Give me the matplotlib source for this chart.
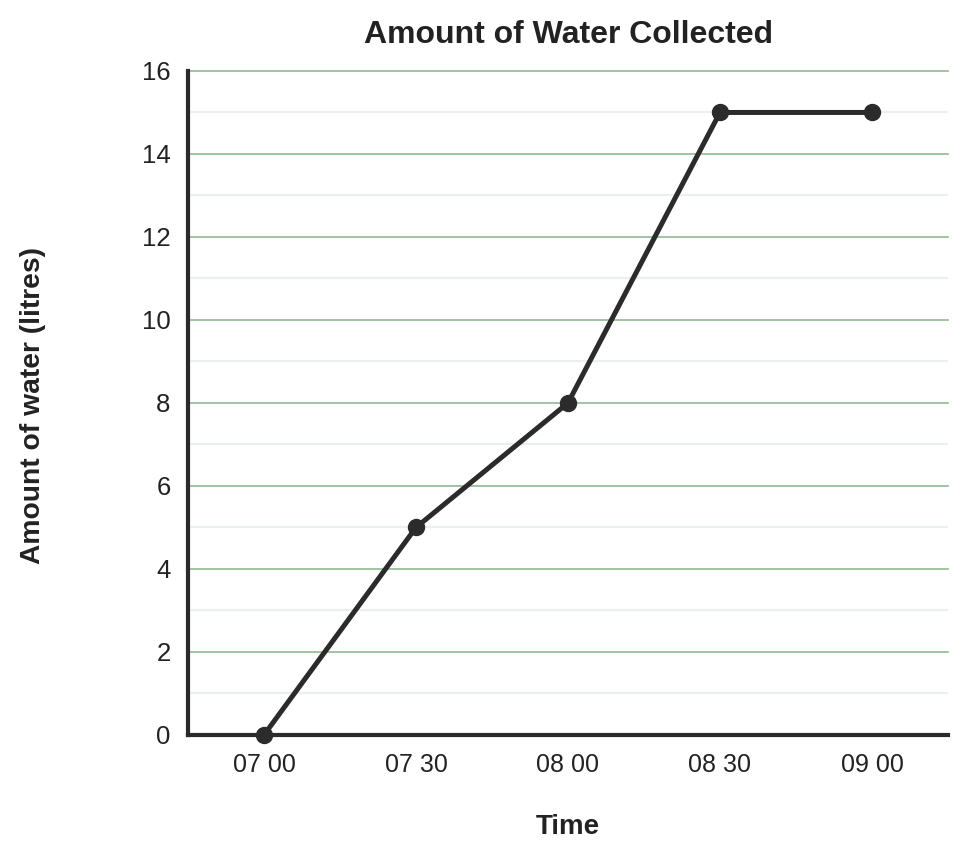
import numpy as np
import matplotlib as mpl
import matplotlib.pyplot as plt

plt.rcParams['font.family'] = ['Liberation Sans', 'DejaVu Sans']

times = ["07 00", "07 30", "08 00", "08 30", "09 00"]
water = [0, 5, 8, 15, 15]

fig = plt.figure(figsize=(9.68, 8.55), dpi=100)
ax = fig.add_axes([0.1942, 0.1404, 0.7851, 0.7766])

x = np.arange(len(times))
ax.plot(x, water, color="#2b2b2b", lw=3.6, marker="o", ms=11.5, zorder=5, clip_on=False)

ax.set_xlim(-0.5, len(times) - 0.5)
ax.set_ylim(0, 16)
ax.set_xticks(x)
ax.set_xticklabels(times)
ax.set_yticks(np.arange(0, 17, 2))
ax.set_yticks(np.arange(1, 16, 2), minor=True)

# grid lines (major green, minor very light)
ax.grid(which="major", axis="y", color="#9bbf9b", lw=1.3)
ax.grid(which="minor", axis="y", color="#ecf0ec", lw=1.6)
for gl in ax.get_ygridlines():
    gl.set_clip_on(False)
ax.set_axisbelow(True)

for s in ["top", "right"]:
    ax.spines[s].set_visible(False)
for s in ["left", "bottom"]:
    ax.spines[s].set_linewidth(3)
    ax.spines[s].set_color("#2a2a2a")
    ax.spines[s].set_zorder(4)

ax.tick_params(axis="both", which="both", length=0)
ax.tick_params(axis="y", labelsize=18.5, pad=12.5, colors="#222222")
ax.tick_params(axis="x", labelsize=18, pad=13, colors="#222222")

fig.text(568 / 968, 1 - 35 / 855, "Amount of Water Collected", fontsize=23,
         fontweight="bold", ha="center", va="center", color="#222222")
fig.text(568 / 968, 1 - 827 / 855, "Time", fontsize=20,
         fontweight="bold", ha="center", va="center", color="#222222")
fig.text(33 / 968, 1 - 405 / 855, "Amount of water (litres)", fontsize=20.3,
         fontweight="bold", ha="center", va="center", rotation=90, color="#222222")

plt.savefig("out.png", dpi=100)
